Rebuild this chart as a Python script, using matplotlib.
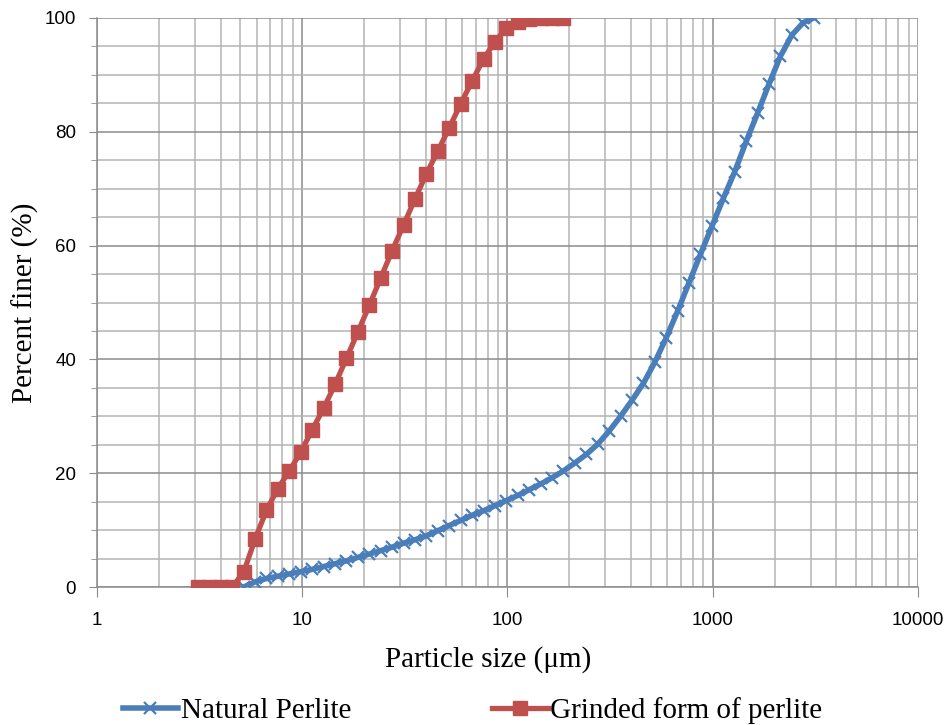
import numpy as np
import matplotlib.pyplot as plt
from matplotlib.ticker import FixedLocator, NullFormatter

# particle size bins (um)
size_grind = [3.105, 3.529, 4.012, 4.560, 5.184, 5.892, 6.698, 7.613, 8.654, 9.837,
              11.18, 12.71, 14.45, 16.43, 18.67, 21.22, 24.12, 27.42, 31.17, 35.43,
              40.27, 45.78, 52.04, 59.15, 67.24, 76.43, 86.88, 98.75, 112.3, 127.6,
              145.0, 164.9, 187.4]
finer_grind = [0, 0, 0, 0, 2.6, 8.4, 13.5, 17.3, 20.4, 23.7,
               27.6, 31.4, 35.6, 40.2, 44.8, 49.5, 54.3, 59.1, 63.6, 68.2,
               72.6, 76.6, 80.7, 84.9, 88.9, 92.8, 95.8, 98.2, 99.3, 99.9,
               100, 100, 100]

size_nat = [5.184, 5.892, 6.698, 7.613, 8.654, 9.837, 11.18, 12.71, 14.45, 16.43,
            18.67, 21.22, 24.12, 27.42, 31.17, 35.43, 40.27, 45.78, 52.04, 59.15,
            67.24, 76.43, 86.88, 98.75, 112.3, 127.6, 145.0, 164.9, 187.4, 213.0,
            242.1, 275.2, 312.8, 355.6, 404.2, 459.5, 522.3, 593.7, 674.8, 767.1,
            871.9, 991.1, 1126.6, 1280.6, 1455.7, 1654.7, 1880.9, 2138.0, 2430.3, 2762.6,
            3100.0]
finer_nat = [0, 0.9, 1.5, 1.9, 2.3, 2.7, 3.1, 3.6, 4.1, 4.6,
             5.2, 5.8, 6.4, 7.0, 7.7, 8.3, 9.0, 9.9, 10.8, 11.7,
             12.6, 13.4, 14.3, 15.2, 16.1, 17.1, 18.1, 19.2, 20.4, 21.8,
             23.3, 25.1, 27.4, 30.0, 32.8, 35.8, 39.5, 43.8, 48.5, 53.5,
             58.5, 63.4, 68.3, 73.0, 78.3, 83.3, 88.4, 93.3, 97.0, 99.2,
             100]

fig = plt.figure(figsize=(9.45, 7.25), dpi=100)
ax = fig.add_axes([0.1026, 0.1903, 0.8688, 0.7849])

ax.plot(size_nat, finer_nat, color='#4A7EBB', lw=4, marker='x', ms=8.5,
        mew=1.6, label='Natural Perlite', zorder=3)
ax.plot(size_grind, finer_grind, color='#C0504D', lw=3.8, marker='s', ms=10.5,
        label='Grinded form of perlite', zorder=4)

ax.set_xscale('log')
ax.set_xlim(1, 10000)
ax.set_ylim(0, 100)

ax.xaxis.set_major_locator(FixedLocator([1, 10, 100, 1000, 10000]))
ax.set_xticklabels(['1', '10', '100', '1000', '10000'])
minors = [m * d for d in [1, 10, 100, 1000] for m in range(2, 10)]
ax.xaxis.set_minor_locator(FixedLocator(minors))
ax.xaxis.set_minor_formatter(NullFormatter())
ax.set_yticks([0, 20, 40, 60, 80, 100])
ax.set_yticks(np.arange(0, 101, 5), minor=True)

ax.grid(which='major', color='#8c8c8c', lw=1.1)
ax.grid(which='minor', color='#b4b4b4', lw=1.1)
ax.set_axisbelow(True)

for s in ['top', 'right']:
    ax.spines[s].set_visible(False)
for s in ['left', 'bottom']:
    ax.spines[s].set_color('#8c8c8c')
    ax.spines[s].set_linewidth(1.1)

ax.tick_params(axis='y', which='major', length=6, color='#8c8c8c', labelsize=13.5, pad=9)
ax.tick_params(axis='y', which='minor', length=4, color='#8c8c8c')
ax.tick_params(axis='x', which='major', length=7, color='#8c8c8c', labelsize=13.5, pad=11)
ax.tick_params(axis='x', which='minor', length=0)
for lab in ax.get_xticklabels() + ax.get_yticklabels():
    lab.set_family('Liberation Sans')

ax.set_xlabel('Particle size (\u03bcm)', family='Liberation Serif', fontsize=21)
ax.xaxis.set_label_coords(0.476, -0.103)
ax.set_ylabel('Percent finer (%)', family='Liberation Serif', fontsize=21)
ax.yaxis.set_label_coords(-0.07, 0.5)

fig.legend(loc='lower center', bbox_to_anchor=(0.5, -0.035), ncol=2, frameon=False,
           prop={'family': 'Liberation Serif', 'size': 21}, handlelength=1.9,
           handletextpad=0.08, columnspacing=4.85)

fig.savefig('out.png', dpi=100)
